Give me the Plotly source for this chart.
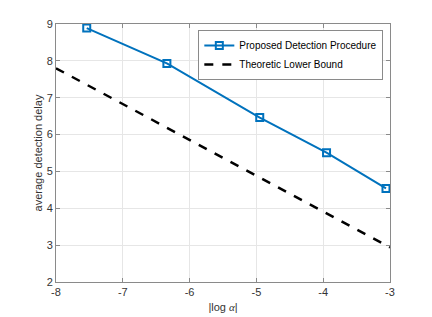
import plotly.graph_objects as go

# data
proposed_x = [-7.54, -6.34, -4.95, -3.95, -3.06]
proposed_y = [8.89, 7.93, 6.46, 5.51, 4.54]
bound_x = [-8, -3]
bound_y = [7.8, 2.94]
x_ticks = [-8, -7, -6, -5, -4, -3]
x_labels = ["-8", "-7", "-6", "-5", "-4", "-3"]
y_ticks = [2, 3, 4, 5, 6, 7, 8, 9]
y_labels = ["2", "3", "4", "5", "6", "7", "8", "9"]

fig = go.Figure()
fig.add_trace(go.Scatter(
    x=proposed_x, y=proposed_y, mode="lines+markers",
    name="Proposed Detection Procedure",
    line=dict(color="#0072BD", width=2),
    marker=dict(symbol="square-open", size=7, color="#0072BD", line=dict(width=2)),
))
fig.add_trace(go.Scatter(
    x=bound_x, y=bound_y, mode="lines",
    name="Theoretic Lower Bound",
    line=dict(color="black", width=2.5, dash="dash"),
))

axis_common = dict(
    showgrid=True, gridcolor="#E6E6E6", gridwidth=1,
    showline=True, linecolor="#8a8a8a", linewidth=1, mirror="ticks",
    ticks="inside", ticklen=4, tickcolor="#8a8a8a",
    tickfont=dict(family="Liberation Sans, Arial", size=11, color="#333333"),
    zeroline=False, automargin=False,
)
fig.update_layout(
    width=432, height=317,
    margin=dict(l=56, r=42, t=24, b=35),
    paper_bgcolor="white", plot_bgcolor="white",
    showlegend=True,
    legend=dict(
        x=0.98, y=0.977, xanchor="right", yanchor="top",
        bgcolor="white", bordercolor="#8a8a8a", borderwidth=1,
        font=dict(family="Liberation Sans, Arial", size=10, color="black"),
        tracegroupgap=0, itemwidth=30,
    ),
    xaxis=dict(range=[-8, -3], tickvals=x_ticks, ticktext=x_labels, **axis_common,
               title=dict(text="|log <i style='font-family:Liberation Serif'>α</i>|", standoff=6,
                          font=dict(family="Liberation Sans, Arial", size=11, color="#333333"))),
    yaxis=dict(range=[2, 9], tickvals=y_ticks, ticktext=y_labels, **axis_common,
               title=dict(text="average detection delay", standoff=1,
                          font=dict(family="Liberation Sans, Arial", size=11, color="#333333"))),
)
fig.write_html("out.html", config={"displayModeBar": False},
               post_script="document.body.style.margin='0';document.body.style.overflow='hidden';")
